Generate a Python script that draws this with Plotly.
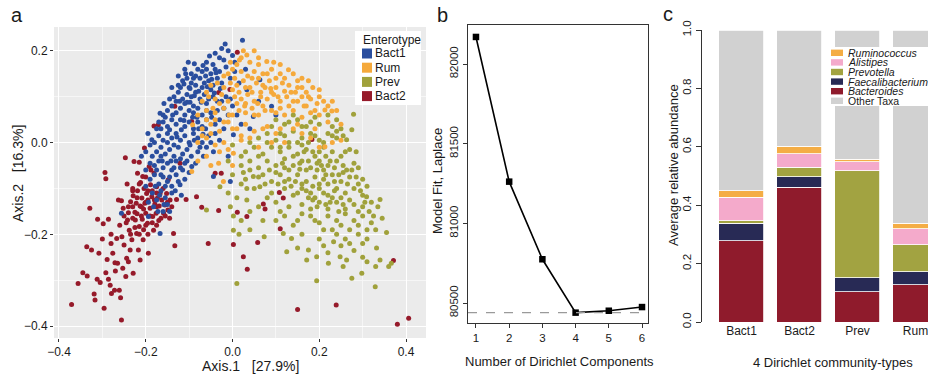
import plotly.graph_objects as go

# ---------------- Panel a data (PCoA) ----------------
bact2_pts = [(-0.371,-0.353),(-0.356,-0.307),(-0.345,-0.284),(-0.336,-0.227),(-0.335,-0.291),(-0.329,-0.143),(-0.325,-0.234),
(-0.319,-0.330),(-0.317,-0.343),(-0.312,-0.298),(-0.311,-0.167),(-0.308,-0.241),(-0.305,-0.305),(-0.298,-0.177),(-0.296,-0.361),
(-0.294,-0.065),(-0.292,-0.079),(-0.292,-0.284),(-0.289,-0.255),(-0.286,-0.167),(-0.286,-0.298),(-0.282,-0.311),(-0.280,-0.220),
(-0.279,-0.329),(-0.276,-0.241),(-0.272,-0.322),(-0.271,-0.262),(-0.267,-0.209),(-0.265,-0.263),(-0.263,-0.125),(-0.261,-0.322),
(-0.258,-0.338),(-0.256,-0.387),(-0.256,-0.127),(-0.253,-0.274),(-0.252,-0.143),(-0.250,-0.223),(-0.247,-0.033),(-0.246,-0.292),
(-0.244,-0.252),(-0.243,-0.090),(-0.242,-0.169),(-0.240,-0.153),(-0.238,-0.191),(-0.236,-0.234),(-0.235,-0.129),(-0.232,-0.212),
(-0.230,-0.100),(-0.229,-0.116),(-0.229,-0.285),(-0.227,-0.041),(-0.225,-0.152),(-0.224,-0.169),(-0.222,-0.132),(-0.221,-0.198),
(-0.219,-0.067),(-0.219,-0.105),(-0.217,-0.234),(-0.215,-0.043),(-0.215,-0.183),(-0.213,-0.138),(-0.213,-0.256),(-0.212,-0.087),
(-0.209,-0.121),(-0.208,-0.167),(-0.207,-0.074),(-0.206,-0.212),(-0.204,-0.100),(-0.203,-0.012),(-0.202,-0.132),(-0.200,-0.154),
(-0.198,-0.111),(-0.196,-0.176),(-0.194,-0.241),(-0.192,-0.052),(-0.190,-0.143),(-0.189,-0.092),(-0.186,-0.118),(-0.184,-0.161),
(-0.182,-0.191),(-0.181,-0.067),(-0.181,0.036),(-0.179,-0.134),(-0.176,-0.154),(-0.175,-0.096),(-0.173,-0.121),(-0.171,0.039),
(-0.169,-0.138),(-0.167,-0.111),(-0.163,-0.125),(-0.159,-0.154),(-0.156,-0.136),(-0.152,-0.111),(-0.149,-0.147),(-0.148,-0.081),
(-0.144,-0.125),(-0.136,-0.198),(-0.133,-0.225),(-0.133,0.079),(-0.129,-0.124),(-0.121,-0.045),(-0.107,-0.124),(-0.094,0.046),
(-0.083,-0.118),(-0.071,-0.141),(-0.056,-0.220),(-0.040,-0.067),(-0.032,-0.148),(-0.026,-0.067),(0.002,-0.222),(0.011,-0.152),
(0.025,-0.249),(0.033,-0.161),(0.034,-0.276),(0.058,-0.218),(0.071,-0.134),(0.075,-0.145),(0.108,-0.109),(0.117,-0.121),
(0.110,-0.188),(0.150,-0.364),(0.183,0.007),(0.239,-0.354),(0.371,-0.257),(0.380,-0.396),(0.406,-0.383),(0.011,0.197),
(-0.032,0.109),(-0.006,0.116),(-0.205,-0.145),(-0.195,-0.125),(-0.185,-0.105),(-0.210,-0.160),(-0.200,-0.180),(-0.175,-0.140),
(-0.160,-0.100),(-0.150,-0.130),(-0.220,-0.120),(-0.230,-0.140),(-0.165,-0.165),(-0.140,-0.140),
(-0.245,-0.175),(-0.235,-0.200),(-0.225,-0.185),(-0.215,-0.200),(-0.205,-0.190),(-0.195,-0.200),(-0.185,-0.175),(-0.175,-0.180),
(-0.190,-0.160),(-0.200,-0.130),(-0.210,-0.140),(-0.220,-0.155),(-0.230,-0.165),(-0.240,-0.140),(-0.250,-0.160),(-0.260,-0.180),
(-0.255,-0.205),(-0.230,-0.105),(-0.215,-0.090),(-0.200,-0.075),(-0.188,-0.060),(-0.175,-0.110),(-0.155,-0.160),(-0.145,-0.165),
(-0.170,-0.170),(-0.180,-0.125),(-0.195,-0.105),(-0.280,-0.200),(-0.300,-0.210),(-0.270,-0.280),(-0.240,-0.260)]

bact1_pts = [(-0.017,0.215),(0.023,0.223),(-0.025,0.205),(-0.010,0.200),
(-0.053,0.189),(-0.040,0.195),(-0.030,0.185),(-0.060,0.175),(-0.102,0.175),(-0.020,0.180),(0.000,0.190),(-0.045,0.170),
(-0.080,0.160),(-0.070,0.155),(-0.060,0.160),(-0.050,0.150),(-0.040,0.160),(-0.030,0.155),(-0.095,0.150),(-0.085,0.145),(-0.015,0.165),(0.005,0.155),
(-0.115,0.135),(-0.105,0.140),(-0.095,0.130),(-0.085,0.125),(-0.075,0.140),(-0.065,0.130),(-0.055,0.135),(-0.045,0.125),(-0.035,0.140),
(-0.025,0.130),(-0.120,0.120),(-0.100,0.120),(-0.070,0.120),(-0.050,0.115),(0.033,0.115),(0.063,0.137),
(-0.135,0.100),(-0.125,0.110),(-0.115,0.095),(-0.105,0.105),(-0.095,0.100),(-0.085,0.110),(-0.075,0.095),(-0.065,0.105),(-0.055,0.095),
(-0.045,0.100),(-0.035,0.090),(-0.130,0.090),(-0.110,0.085),(-0.090,0.080),(-0.060,0.085),
(-0.150,0.070),(-0.140,0.080),(-0.130,0.065),(-0.120,0.075),(-0.110,0.060),(-0.100,0.070),(-0.090,0.065),(-0.080,0.075),(-0.070,0.060),
(-0.060,0.070),(-0.050,0.065),(-0.167,0.064),(0.090,0.079),(0.048,0.057),(-0.020,0.075),
(-0.160,0.045),(-0.150,0.035),(-0.140,0.050),(-0.130,0.040),(-0.120,0.050),(-0.110,0.035),(-0.100,0.045),(-0.090,0.030),(-0.080,0.045),
(-0.070,0.035),(-0.060,0.050),(-0.040,0.040),(-0.175,0.030),
(-0.170,0.015),(-0.160,0.005),(-0.150,0.020),(-0.140,0.010),(-0.130,0.020),(-0.120,0.005),(-0.110,0.015),(-0.100,0.000),(-0.090,0.020),
(-0.080,0.010),(-0.070,0.000),(-0.055,0.015),(-0.186,0.006),(0.002,0.017),(-0.030,0.005),
(-0.175,-0.020),(-0.165,-0.010),(-0.155,-0.025),(-0.145,-0.015),(-0.135,-0.030),(-0.125,-0.010),(-0.115,-0.025),(-0.105,-0.015),
(-0.095,-0.030),(-0.080,-0.020),(-0.067,-0.030),(-0.044,-0.020),(-0.190,-0.005),
(-0.180,-0.050),(-0.170,-0.040),(-0.160,-0.055),(-0.150,-0.045),(-0.140,-0.060),(-0.130,-0.040),(-0.120,-0.055),(-0.110,-0.045),
(-0.094,-0.052),(-0.200,-0.060),
(-0.190,-0.080),(-0.180,-0.070),(-0.170,-0.090),(-0.160,-0.075),(-0.150,-0.085),(-0.140,-0.095),(-0.130,-0.070),(-0.121,-0.092),
(-0.110,-0.080),(-0.005,-0.085),(-0.044,-0.074),(-0.200,-0.095),
(-0.185,-0.110),(-0.175,-0.125),(-0.165,-0.105),(-0.155,-0.120),(-0.150,-0.135),(-0.140,-0.110),(-0.194,-0.130),
(-0.194,-0.161),(-0.167,-0.198),(-0.256,-0.154),(-0.160,-0.150),
(-0.125,0.125),(-0.108,0.150),(-0.090,0.140),(-0.078,0.112),(-0.062,0.145),(-0.042,0.108),(-0.028,0.118),(-0.098,0.088),
(-0.082,0.055),(-0.118,0.028),(-0.145,0.028),(-0.135,-0.005),(-0.105,-0.040),(-0.165,-0.030),(-0.155,0.055),(-0.068,0.018),
(-0.112,0.128),(-0.098,0.118),(-0.088,0.102),(-0.072,0.088),(-0.058,0.122),(-0.048,0.138),(-0.038,0.152),(-0.068,0.168),
(-0.088,0.172),(-0.110,0.160),(-0.125,0.145),(-0.140,0.120),(-0.145,0.095),(-0.158,0.085),(-0.160,0.060),(-0.170,0.045),
(-0.180,0.000),(-0.185,-0.030),(-0.190,-0.045),(-0.175,-0.060),(-0.165,-0.070),(-0.155,-0.095),(-0.145,-0.075),(-0.135,-0.055),
(-0.125,-0.085),(-0.115,-0.060),(-0.100,-0.065),(-0.085,-0.045),(-0.075,-0.010),(-0.060,-0.010),(-0.050,0.000),(-0.040,0.020),
(-0.030,0.050),(-0.020,0.030),(-0.010,0.060),(0.000,0.080),(-0.015,0.100),(-0.005,0.095),(0.010,0.060),(0.020,0.040),
(-0.138,0.060),(-0.122,0.090),(-0.105,0.088),(-0.092,0.055),(-0.078,0.030),(-0.062,0.030),(-0.048,0.055),(-0.035,0.070),
(-0.025,0.090),(-0.112,0.048),(-0.128,0.012),(-0.150,0.000),(-0.162,-0.040),(-0.142,-0.040),(-0.120,-0.035),(-0.098,-0.005),
(-0.088,0.005),(-0.168,-0.115),(-0.178,-0.095),(-0.182,-0.140),(-0.172,-0.150),(-0.158,-0.135),(-0.145,-0.150),(-0.132,-0.105),
(-0.118,-0.115),(-0.210,-0.030),(-0.200,-0.020),(-0.195,0.020),(-0.165,0.030),(0.005,0.175),(-0.005,0.140),(0.015,0.130),
(0.030,0.160),(0.060,0.090),(0.100,0.060),(0.040,0.030),(-0.010,-0.030)]

rum_pts = [(0.016,0.180),(0.033,0.191),(0.025,0.200),(0.010,0.170),(0.040,0.175),(0.079,0.177),(0.060,0.170),(0.000,0.160),
(-0.010,0.150),(0.020,0.155),(0.035,0.145),(0.050,0.155),(0.070,0.150),(0.090,0.160),(0.110,0.150),(0.129,0.159),(-0.020,0.145),
(0.005,0.140),(0.100,0.140),
(-0.050,0.125),(-0.035,0.130),(-0.020,0.120),(-0.005,0.130),(0.010,0.125),(0.025,0.135),(0.040,0.120),(0.055,0.130),(0.070,0.125),
(0.085,0.135),(0.100,0.120),(0.115,0.130),(0.130,0.125),(0.150,0.135),(0.175,0.135),(-0.060,0.110),(0.000,0.115),(0.065,0.110),
(-0.070,0.090),(-0.055,0.100),(-0.040,0.095),(-0.025,0.105),(-0.010,0.090),(0.005,0.100),(0.020,0.095),(0.035,0.105),(0.050,0.090),
(0.065,0.100),(0.080,0.095),(0.095,0.105),(0.110,0.090),(0.125,0.100),(0.140,0.090),(0.160,0.100),(0.180,0.095),(0.195,0.085),(0.200,0.100),
(-0.080,0.060),(-0.060,0.070),(-0.040,0.065),(-0.020,0.075),(0.000,0.060),(0.015,0.070),(0.030,0.065),(0.045,0.075),(0.060,0.060),
(0.075,0.070),(0.100,0.065),(0.120,0.060),(0.140,0.070),(0.160,0.055),(0.180,0.065),(0.213,0.071),(0.229,0.069),
(-0.092,0.039),(-0.070,0.030),(-0.050,0.040),(-0.030,0.025),(-0.010,0.045),(0.010,0.030),(0.030,0.040),(0.050,0.025),(0.080,0.035),
(0.110,0.030),(0.150,0.040),(0.190,0.030),(0.220,0.045),
(-0.080,0.000),(-0.060,0.010),(-0.040,-0.005),(-0.020,0.000),(-0.010,-0.015),(0.002,-0.023),(0.020,0.005),(0.060,-0.010),(0.120,0.000),
(0.180,0.010),(0.213,-0.009),(0.250,0.005),
(-0.032,-0.045),(-0.094,-0.063),(-0.021,-0.085),(-0.050,-0.050),(0.000,-0.050),
(0.045,0.140),(0.015,0.110),(0.088,0.118),(0.058,0.085),(0.028,0.080),(-0.008,0.060),(0.120,0.112),(0.145,0.110),(0.165,0.080),
(0.030,0.120),(0.045,0.110),(0.060,0.140),(0.075,0.120),(0.090,0.110),(0.105,0.100),(0.120,0.140),(0.135,0.110),(0.150,0.120),
(0.160,0.140),(0.170,0.110),(0.185,0.120),(0.200,0.115),(0.210,0.090),(0.220,0.080),(0.240,0.070),(0.190,0.070),(0.170,0.080),
(0.150,0.090),(0.130,0.080),(0.110,0.075),(0.090,0.070),(0.070,0.080),(0.050,0.060),(0.030,0.085),(0.010,0.085),(-0.030,0.085),
(-0.045,0.075),(-0.060,0.050),(-0.040,0.050),(-0.020,0.045),(0.000,0.030),(0.020,0.015),(0.040,0.010),(-0.070,0.015),(-0.050,0.020),
(-0.030,-0.020),(-0.060,-0.030),(-0.080,-0.040),(0.080,0.150),(0.095,0.175),(0.110,0.170),(0.060,0.185),(0.050,0.200),(0.020,0.185),
(-0.005,0.175),(0.140,0.150),(0.160,0.120),(0.175,0.100),(0.230,0.090),(0.250,0.040),(0.200,0.060),(0.140,0.030),(0.100,0.020),
(0.070,0.030),(0.090,0.000),(0.160,0.020),(0.200,-0.010),(0.230,0.000)]

prev_pts = [(0.120,0.040),(0.150,0.050),(0.170,0.035),(0.190,0.055),(0.200,0.040),(0.220,0.060),(0.240,0.050),(0.279,0.062),(0.250,0.030),
(0.140,0.060),(0.100,0.050),(0.275,0.028),(0.090,0.035),
(0.060,0.010),(0.080,0.020),(0.100,0.005),(0.120,0.015),(0.140,0.025),(0.160,0.010),(0.180,0.020),(0.200,0.005),(0.220,0.020),
(0.240,0.010),(0.263,0.006),(0.040,0.000),(0.150,0.000),(0.210,0.000),
(0.030,-0.020),(0.050,-0.010),(0.070,-0.025),(0.090,-0.010),(0.110,-0.020),(0.130,-0.010),(0.150,-0.025),(0.170,-0.015),(0.190,-0.030),
(0.210,-0.010),(0.230,-0.020),(0.250,-0.030),(0.270,-0.015),(0.000,-0.005),(0.160,-0.005),(0.200,-0.020),
(0.020,-0.050),(0.040,-0.040),(0.060,-0.055),(0.080,-0.040),(0.100,-0.050),(0.120,-0.035),(0.140,-0.050),(0.160,-0.040),(0.180,-0.055),
(0.200,-0.040),(0.220,-0.050),(0.240,-0.040),(0.263,-0.060),(0.280,-0.045),(-0.010,-0.040),(0.130,-0.060),(0.170,-0.060),(0.210,-0.060),
(0.000,-0.070),(0.030,-0.080),(0.048,-0.074),(0.070,-0.070),(0.090,-0.085),(0.110,-0.070),(0.130,-0.080),(0.150,-0.070),(0.170,-0.085),
(0.190,-0.075),(0.210,-0.080),(0.230,-0.070),(0.250,-0.085),(0.270,-0.075),(0.290,-0.090),(-0.029,-0.096),(0.200,-0.090),(0.220,-0.090),(0.160,-0.090),
(-0.010,-0.110),(0.033,-0.100),(0.063,-0.096),(0.090,-0.110),(0.120,-0.100),(0.140,-0.115),(0.160,-0.100),(0.180,-0.110),(0.200,-0.100),
(0.220,-0.115),(0.240,-0.100),(0.260,-0.110),(0.280,-0.100),(0.300,-0.115),(0.190,-0.120),(0.230,-0.120),(0.250,-0.120),
(-0.060,-0.147),(-0.005,-0.140),(0.033,-0.125),(0.100,-0.130),(0.130,-0.140),(0.160,-0.135),(0.180,-0.145),(0.200,-0.130),(0.220,-0.145),
(0.240,-0.130),(0.260,-0.145),(0.280,-0.135),(0.309,-0.118),(0.300,-0.140),(0.320,-0.130),(0.340,-0.124),(0.060,-0.140),
(0.002,-0.160),(0.020,-0.170),(0.120,-0.160),(0.150,-0.170),(0.180,-0.160),(0.200,-0.175),(0.220,-0.160),(0.240,-0.170),(0.260,-0.155),
(0.280,-0.170),(0.300,-0.160),(0.320,-0.175),(0.310,-0.190),(0.270,-0.190),(0.230,-0.190),(0.355,-0.196),(0.002,-0.191),(0.140,-0.180),
(0.015,-0.200),(0.073,-0.205),(0.117,-0.198),(0.136,-0.209),(0.175,-0.234),(0.233,-0.216),(0.260,-0.210),(0.290,-0.200),(0.300,-0.220),
(0.332,-0.230),(0.125,-0.238),(0.210,-0.225),(0.280,-0.235),(0.250,-0.225),
(0.194,-0.249),(0.171,-0.256),(0.248,-0.249),(0.263,-0.256),(0.221,-0.263),(0.340,-0.256),(0.366,-0.263),(0.360,-0.270),(0.298,-0.285),
(0.275,-0.296),(0.329,-0.314),(0.194,-0.301),(0.010,-0.307),(0.300,-0.250),
(0.175,0.000),(0.195,-0.045),(0.155,-0.058),(0.235,-0.055),(0.185,-0.095),(0.145,-0.085),(0.255,-0.065),(0.115,-0.045),(0.215,-0.030),
(0.175,-0.120),(0.215,-0.135),(0.245,-0.150),(0.110,0.020),(0.230,0.035),
(0.130,0.000),(0.110,-0.010),(0.120,-0.055),(0.140,-0.030),(0.155,-0.045),(0.165,-0.020),(0.175,-0.040),(0.185,-0.020),(0.195,-0.060),
(0.205,-0.050),(0.215,-0.070),(0.225,-0.040),(0.235,-0.085),(0.245,-0.070),(0.255,-0.050),(0.265,-0.090),(0.275,-0.060),(0.285,-0.075),
(0.295,-0.105),(0.305,-0.130),(0.315,-0.150),(0.325,-0.160),(0.335,-0.140),(0.345,-0.165),(0.330,-0.190),(0.290,-0.150),(0.270,-0.125),
(0.255,-0.135),(0.235,-0.105),(0.225,-0.130),(0.210,-0.110),(0.195,-0.140),(0.185,-0.125),(0.170,-0.105),(0.150,-0.110),(0.135,-0.095),
(0.120,-0.085),(0.105,-0.090),(0.100,-0.065),(0.085,-0.060),(0.075,-0.090),(0.060,-0.075),(0.050,-0.100),(0.020,-0.090),(0.010,-0.120),
(0.040,-0.150),(0.080,-0.120),(0.110,-0.150),(0.160,-0.155),(0.190,-0.170),(0.210,-0.190),(0.250,-0.180),(0.290,-0.180),(0.240,-0.200),
(0.270,-0.220),(0.310,-0.210),(0.200,-0.210),(0.160,-0.200),(0.150,-0.230),(0.220,-0.240),(0.255,-0.270),(0.310,-0.260),(0.330,-0.270),
(0.100,-0.170),(0.070,-0.170),(0.040,-0.190),(0.080,0.000),(0.060,-0.030),(0.040,-0.060),(0.020,-0.030),(0.025,-0.065),(0.190,0.015),
(0.230,0.015),(0.255,0.015),(0.260,-0.020),(0.285,-0.020),(0.290,-0.055),(0.300,-0.080),(0.310,-0.095),(0.240,0.025),(0.180,0.045),
(0.160,0.035),(0.130,0.045)]

group_names = ["Bact1", "Rum", "Prev", "Bact2"]
group_colors = ["#2A4E9E", "#F5A93B", "#A0A13B", "#961A2A"]

# ---------------- Panel b data ----------------
n_components = [1, 2, 3, 4, 5, 6]
laplace_fit = [82170, 81262, 80775, 80440, 80452, 80475]
laplace_min = 80440

# ---------------- Panel c data ----------------
community_types = ["Bact1", "Bact2", "Prev", "Rum"]
taxa = ["Bacteroides", "Faecalibacterium", "Prevotella", "Alistipes", "Ruminococcus", "Other Taxa"]
taxa_colors = ["#8F1B2C", "#282A55", "#A2A341", "#F4AACB", "#F4AD45", "#D1D1D1"]
abundance = {
    "Bacteroides":      [0.278, 0.462, 0.103, 0.127],
    "Faecalibacterium": [0.060, 0.036, 0.049, 0.045],
    "Prevotella":       [0.009, 0.032, 0.366, 0.092],
    "Alistipes":        [0.080, 0.046, 0.030, 0.056],
    "Ruminococcus":     [0.023, 0.026, 0.009, 0.018],
}
abundance["Other Taxa"] = [1 - sum(abundance[t][i] for t in taxa[:5]) for i in range(4)]
legend_c_order = ["Ruminococcus", "Alistipes", "Prevotella", "Faecalibacterium", "Bacteroides", "Other Taxa"]

W, H = 928, 377
FONT = "Liberation Sans, Arial, sans-serif"
TXT = "#1a1a1a"

def px(x):
    return x / W

def py(y):
    return 1 - y / H

fig = go.Figure()

pts_by_group = {"Bact1": bact1_pts, "Rum": rum_pts, "Prev": prev_pts, "Bact2": bact2_pts}
for name in ["Bact2", "Bact1", "Prev", "Rum"]:
    pts = pts_by_group[name]
    col = group_colors[group_names.index(name)]
    fig.add_trace(go.Scatter(
        x=[p[0] for p in pts], y=[p[1] for p in pts], mode="markers",
        marker=dict(size=5, color=col, line=dict(width=0)),
        name=name, showlegend=False, xaxis="x", yaxis="y"))

fig.add_trace(go.Scatter(
    x=n_components, y=laplace_fit, mode="lines+markers",
    line=dict(color="black", width=1.6),
    marker=dict(symbol="square", size=6.5, color="black"),
    showlegend=False, xaxis="x2", yaxis="y2"))

for t, c in zip(taxa, taxa_colors):
    fig.add_trace(go.Bar(
        x=community_types, y=abundance[t], name=t,
        marker=dict(color=c, line=dict(color="white", width=0.8)),
        showlegend=False, xaxis="x3", yaxis="y3"))

shapes = []
shapes.append(dict(type="rect", xref="x domain", yref="y domain", x0=0, x1=1, y0=0, y1=1,
                   fillcolor="#EBEBEB", line=dict(width=0), layer="below"))
shapes.append(dict(type="line", xref="x2 domain", yref="y2", x0=0, x1=1, y0=laplace_min, y1=laplace_min,
                   line=dict(color="#9a9a9a", width=1.2, dash="dash")))

annotations = []
shapes.append(dict(type="rect", xref="paper", yref="paper", x0=px(355), x1=px(421), y0=py(105), y1=py(31),
                   fillcolor="white", line=dict(width=0)))
annotations.append(dict(x=px(361), y=py(40), xref="paper", yref="paper", text="Enterotype", showarrow=False,
                        xanchor="left", yanchor="middle", font=dict(size=12, color=TXT, family=FONT)))
for i, (n, c) in enumerate(zip(group_names, group_colors)):
    yc = 53.5 + i * 14.2
    shapes.append(dict(type="rect", xref="paper", yref="paper", x0=px(362), x1=px(372), y0=py(yc + 5), y1=py(yc - 5),
                       fillcolor=c, line=dict(width=0)))
    annotations.append(dict(x=px(373), y=py(yc), xref="paper", yref="paper", text=n, showarrow=False,
                            xanchor="left", yanchor="middle", font=dict(size=12, color=TXT, family=FONT)))

shapes.append(dict(type="rect", xref="paper", yref="paper", x0=px(828), x1=1, y0=py(106), y1=py(47),
                   fillcolor="white", line=dict(width=0)))
for i, t in enumerate(legend_c_order):
    yc = 52.8 + i * 9.6
    c = taxa_colors[taxa.index(t)]
    shapes.append(dict(type="rect", xref="paper", yref="paper", x0=px(831), x1=px(843), y0=py(yc + 3.2), y1=py(yc - 3.2),
                       fillcolor=c, line=dict(width=0)))
    label = t if t == "Other Taxa" else "<i>" + t + "</i>"
    annotations.append(dict(x=px(846), y=py(yc), xref="paper", yref="paper", text=label, showarrow=False,
                            xanchor="left", yanchor="middle", font=dict(size=10.5, color=TXT, family=FONT)))

def ann(x, y, text, size, angle=0):
    annotations.append(dict(x=px(x), y=py(y), xref="paper", yref="paper", text=text, showarrow=False,
                            xanchor="center", yanchor="middle", textangle=angle,
                            font=dict(size=size, color=TXT, family=FONT)))

ann(17, 15, "a", 20)
ann(442, 15, "b", 20)
ann(668, 14, "c", 20)
ann(250, 366, "Axis.1   [27.9%]", 14)
ann(18, 174, "Axis.2   [16.3%]", 14, -90)
ann(438, 181, "Model Fit, Laplace", 13, -90)
ann(559, 361, "Number of Dirichlet Components", 13)
ann(673, 165, "Average relative abundance", 13, -90)
ann(833, 362, "4 Dirichlet community-types", 13)

tickfont = dict(size=12, color=TXT, family=FONT)

fig.update_layout(
    width=W, height=H, margin=dict(l=0, r=0, t=0, b=0, autoexpand=False),
    paper_bgcolor="white", plot_bgcolor="white",
    font=dict(family=FONT, color=TXT),
    barmode="stack", bargap=0.224,
    shapes=shapes, annotations=annotations, showlegend=False,
    xaxis=dict(domain=[px(54), px(426)], range=[-0.4115, 0.446], tickvals=[-0.4, -0.2, 0.0, 0.2, 0.4],
               tickformat=".1f", showgrid=True, gridcolor="white", gridwidth=1.2, zeroline=False,
               minor=dict(tickvals=[-0.3, -0.1, 0.1, 0.3], showgrid=True, gridcolor="#F6F6F6", gridwidth=0.6, ticks=""),
               ticks="outside", ticklen=3, tickcolor="#333", tickfont=tickfont, showline=False, anchor="y", automargin=False),
    yaxis=dict(domain=[py(338), py(27)], range=[-0.426, 0.252], tickvals=[-0.4, -0.2, 0.0, 0.2],
               tickformat=".1f", showgrid=True, gridcolor="white", gridwidth=1.2, zeroline=False,
               minor=dict(tickvals=[-0.3, -0.1, 0.1], showgrid=True, gridcolor="#F6F6F6", gridwidth=0.6, ticks=""),
               ticks="outside", ticklen=3, tickcolor="#333", tickfont=tickfont, showline=False, anchor="x", automargin=False),
    xaxis2=dict(domain=[px(468), px(648)], range=[0.76, 6.18], tickvals=n_components,
                showgrid=False, zeroline=False, showline=True, mirror=True, linecolor="#333", linewidth=1,
                ticks="outside", ticklen=4, tickcolor="#333", tickfont=dict(size=11.5, color=TXT, family=FONT),
                anchor="y2", automargin=False),
    yaxis2=dict(domain=[py(323), py(25)], range=[80375, 82245], tickvals=[80500, 81000, 81500, 82000], tickformat="d",
                showgrid=False, zeroline=False, showline=True, mirror=True, linecolor="#333", linewidth=1,
                ticks="outside", ticklen=4, tickcolor="#333", tickangle=-90,
                tickfont=dict(size=11.5, color=TXT, family=FONT), anchor="x2", automargin=False),
    xaxis3=dict(domain=[px(702), 1.0], range=[-0.681, 3.216], type="category",
                categoryorder="array", categoryarray=community_types,
                showgrid=False, zeroline=False, showline=False, ticks="",
                tickfont=dict(size=12, color=TXT, family=FONT), anchor="y3", automargin=False),
    yaxis3=dict(domain=[py(322), py(30)], range=[0, 1], tickvals=[0, 0.2, 0.4, 0.6, 0.8, 1.0], tickformat=".1f",
                showgrid=False, zeroline=False, showline=True, linecolor="#333", linewidth=1,
                ticks="outside", ticklen=5, tickcolor="#333", tickangle=-90,
                tickfont=dict(size=11.5, color=TXT, family=FONT), anchor="x3", automargin=False),
)

fig.write_html("out.html", config={"displayModeBar": False},
               post_script="document.body.style.margin='0';document.body.style.overflow='hidden';")
